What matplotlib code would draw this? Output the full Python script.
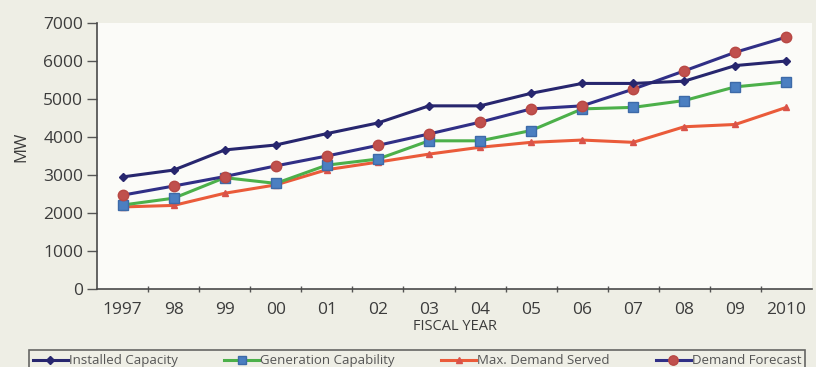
import matplotlib
matplotlib.use("Agg")
import matplotlib.pyplot as plt
from matplotlib.ticker import FixedLocator

plt.rcParams['font.family'] = ['Open Sans', 'DejaVu Sans']

years = ["1997", "98", "99", "00", "01", "02", "03", "04", "05", "06", "07", "08", "09", "2010"]
installed_capacity = [2950, 3130, 3660, 3790, 4090, 4370, 4820, 4820, 5150, 5410, 5410, 5470, 5880, 6000]
generation_capability = [2210, 2390, 2930, 2780, 3260, 3420, 3900, 3900, 4170, 4740, 4780, 4960, 5320, 5450]
max_demand_served = [2160, 2200, 2520, 2740, 3140, 3340, 3550, 3730, 3860, 3920, 3860, 4270, 4330, 4780]
demand_forecast = [2470, 2710, 2960, 3240, 3500, 3780, 4080, 4390, 4740, 4820, 5260, 5740, 6230, 6630]
y_ticks = [0, 1000, 2000, 3000, 4000, 5000, 6000, 7000]

bg = "#eeeee5"
txt = "#3c3c3c"

fig = plt.figure(figsize=(8.16, 3.67), dpi=100, facecolor=bg)
ax = fig.add_axes([0.119, 0.2125, 0.876, 0.7248])
ax.set_facecolor("#fbfbf8")

x = list(range(len(years)))

ax.plot(x, installed_capacity, color="#27266e", lw=2.2, marker="D", ms=4.5,
        mfc="#27266e", mec="#27266e", label="Installed Capacity", clip_on=False, zorder=4)
ax.plot(x, generation_capability, color="#4cb04a", lw=2.2, marker="s", ms=7,
        mfc="#4b7fc1", mec="#3d6aa8", label="Generation Capability", clip_on=False, zorder=3)
ax.plot(x, max_demand_served, color="#ea5b3a", lw=2.2, marker="^", ms=4.5,
        mfc="#d9534a", mec="#d9534a", label="Max. Demand Served", clip_on=False, zorder=2)
ax.plot(x, demand_forecast, color="#302f86", lw=2.2, marker="o", ms=7.5,
        mfc="#c0504d", mec="#b84844", label="Demand Forecast", clip_on=False, zorder=3)

ax.set_xlim(-0.5, len(years) - 0.5)
ax.set_ylim(0, 7000)
ax.set_yticks(y_ticks)
ax.set_yticklabels([str(v) for v in y_ticks])
ax.set_xticks(x)
ax.set_xticklabels(years)
ax.xaxis.set_minor_locator(FixedLocator([i + 0.5 for i in range(len(years) - 1)]))
ax.tick_params(axis="x", which="major", length=0, pad=9, labelsize=12.5, labelcolor=txt)
ax.tick_params(axis="x", which="minor", length=4, direction="inout", width=1, color="#555555")
ax.tick_params(axis="y", length=7, width=1, color="#555555", labelsize=12.5, labelcolor=txt, pad=3)

for side in ("top", "right"):
    ax.spines[side].set_visible(False)
for side in ("left", "bottom"):
    ax.spines[side].set_color("#4a4a4a")
    ax.spines[side].set_linewidth(1.2)

ax.set_xlabel("FISCAL YEAR", fontsize=10.5, color=txt, labelpad=1)
fig.text(0.026, 0.60, "MW", rotation=90, fontsize=12, color=txt, ha="center", va="center")

leg = fig.legend(loc="lower left", bbox_to_anchor=(0.027, -0.03, 0.968, 0.08), mode="expand",
                 ncol=4, fontsize=9.5, frameon=True, fancybox=False, handlelength=2.7,
                 handletextpad=0.05, borderpad=0.3, labelcolor="#555555", markerscale=0.9)
leg.get_frame().set_edgecolor("#444444")
leg.get_frame().set_linewidth(1.2)
leg.get_frame().set_facecolor(bg)

fig.savefig("out.png", dpi=100, facecolor=bg)
